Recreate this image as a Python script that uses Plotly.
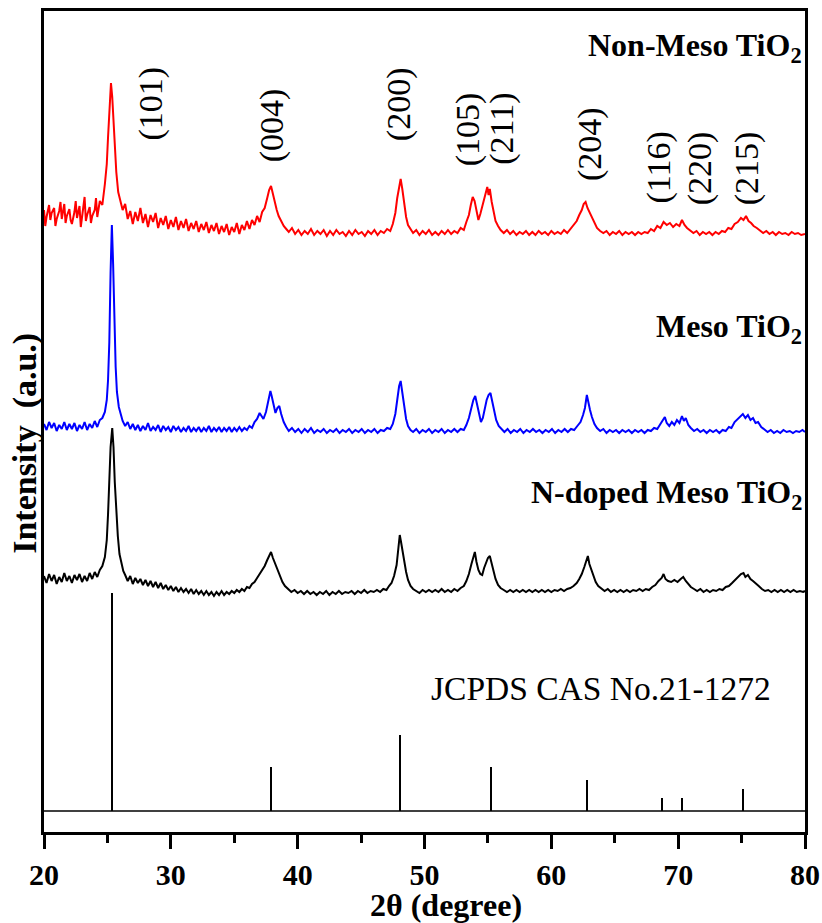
import plotly.graph_objects as go

# ---------------- data ----------------
# intensities are in arbitrary units, already stacked as displayed
red_pts = [
(20.0,622),(20.1,606),(20.2,615),(20.4,627),(20.5,612),(20.6,619),(20.8,624),(20.9,606),(21.0,613),(21.2,621),(21.3,630),(21.4,613),(21.6,628),(21.7,609),(21.8,616),
(22.0,623),(22.1,612),(22.2,608),(22.4,620),(22.5,631),(22.6,614),(22.8,626),(22.9,605),(23.0,614),(23.2,635),(23.3,611),(23.4,617),(23.6,625),(23.7,609),(23.8,616),
(24.0,622),(24.1,634),(24.2,615),(24.4,631),(24.6,627),(24.8,648),(24.95,668),(25.05,695),(25.15,725),(25.28,749),(25.38,735),
(25.48,708),(25.58,684),(25.7,660),(25.85,640),(26.0,632),(26.2,622),(26.4,628),(26.6,613),(26.8,621),(27.0,608),
(27.2,620),(27.4,611),(27.6,624),(27.8,609),(28.0,618),(28.2,605),(28.4,617),(28.6,610),(28.8,619),(29.0,604),
(29.2,614),(29.4,607),(29.6,616),(29.8,603),(30.0,612),(30.2,605),(30.4,615),(30.6,602),(30.8,611),(31.0,604),
(31.2,613),(31.4,601),(31.6,609),(31.8,603),(32.0,611),(32.2,600),(32.4,608),(32.6,602),(32.8,610),(33.0,599),
(33.2,607),(33.4,601),(33.6,609),(33.8,598),(34.0,606),(34.2,600),(34.4,608),(34.6,597),(34.8,605),(35.0,600),
(35.2,609),(35.4,598),(35.6,607),(35.8,602),(36.0,611),(36.2,603),(36.4,612),(36.6,607),(36.8,616),(37.0,610),
(37.2,620),(37.4,624),(37.6,634),(37.75,642),(37.9,646),(38.05,638),(38.2,628),(38.35,622),(38.5,616),(38.7,611),
(38.9,606),(39.1,603),(39.3,600),(39.55,604),(39.8,598),(40.05,602),(40.3,597),(40.55,601),(40.8,598),(41.05,603),
(41.3,597),(41.55,601),(41.8,598),(42.05,602),(42.3,596),(42.55,601),(42.8,597),(43.05,602),(43.3,598),(43.55,600),
(43.8,596),(44.05,601),(44.3,597),(44.55,602),(44.8,598),(45.05,600),(45.3,596),(45.55,601),(45.8,598),(46.05,602),
(46.3,597),(46.55,601),(46.8,599),(47.05,603),(47.3,601),(47.5,608),(47.7,619),(47.85,634),(48.0,647),(48.12,653),
(48.25,643),(48.4,628),(48.55,615),(48.7,607),(48.9,603),(49.1,599),(49.35,602),(49.6,597),(49.85,601),(50.1,598),
(50.35,602),(50.6,597),(50.85,600),(51.1,597),(51.35,601),(51.6,598),(51.85,602),(52.1,598),(52.35,601),(52.6,599),
(52.85,604),(53.1,602),(53.3,610),(53.5,617),(53.65,627),(53.8,635),(53.95,631),(54.1,622),(54.25,612),(54.4,618),
(54.55,626),(54.7,633),(54.85,640),(54.95,645),(55.05,637),(55.15,643),(55.3,630),(55.45,620),(55.6,611),(55.8,606),
(56.0,602),(56.25,599),(56.5,602),(56.75,598),(57.0,601),(57.25,597),(57.5,600),(57.75,598),(58.0,601),(58.25,597),
(58.5,600),(58.75,597),(59.0,601),(59.25,598),(59.5,600),(59.75,597),(60.0,601),(60.25,598),(60.5,600),(60.75,598),
(61.0,602),(61.25,599),(61.5,603),(61.75,606),(62.0,611),(62.2,617),(62.4,622),(62.55,628),(62.7,630),(62.85,624),
(63.0,620),(63.2,613),(63.4,608),(63.6,604),(63.85,601),(64.1,599),(64.35,601),(64.6,597),(64.85,600),(65.1,598),
(65.35,601),(65.6,597),(65.85,600),(66.1,598),(66.35,600),(66.6,597),(66.85,600),(67.1,598),(67.35,600),(67.6,599),
(67.85,603),(68.1,601),(68.35,606),(68.6,604),(68.85,610),(69.1,607),(69.35,609),(69.6,605),(69.85,608),(70.1,606),
(70.3,612),(70.5,607),(70.7,604),(70.95,601),(71.2,599),(71.45,601),(71.7,597),(71.95,600),(72.2,598),(72.45,600),
(72.7,597),(72.95,600),(73.2,598),(73.45,601),(73.7,600),(73.95,604),(74.2,603),(74.45,608),(74.7,610),(74.95,614),
(75.15,612),(75.35,616),(75.55,611),(75.75,609),(75.95,606),(76.2,604),(76.45,601),(76.7,599),(76.95,601),(77.2,598),
(77.45,600),(77.7,597),(77.95,600),(78.2,598),(78.45,599),(78.7,597),(78.95,600),(79.2,598),(79.45,599),(79.7,597),
(80.0,598),
]

blue_pts = [
(20.0,408),(20.2,402),(20.4,410),(20.6,404),(20.8,409),(21.0,401),(21.2,407),(21.4,403),(21.6,410),(21.8,402),
(22.0,408),(22.2,403),(22.4,409),(22.6,401),(22.8,407),(23.0,403),(23.2,410),(23.4,402),(23.6,408),(23.8,404),
(24.0,411),(24.2,405),(24.4,412),(24.6,414),(24.8,420),(24.95,432),(25.05,452),(25.15,490),(25.25,560),(25.35,607),
(25.45,568),(25.55,510),(25.65,465),(25.75,440),(25.9,425),(26.05,418),(26.2,411),(26.4,406),(26.6,410),(26.8,403),
(27.0,408),(27.2,402),(27.4,407),(27.6,401),(27.8,406),(28.0,402),(28.2,409),(28.4,401),(28.6,405),(28.8,402),
(29.0,407),(29.2,400),(29.4,406),(29.6,402),(29.8,405),(30.0,400),(30.2,406),(30.4,402),(30.6,405),(30.8,400),
(31.0,404),(31.2,401),(31.4,406),(31.6,400),(31.8,404),(32.0,401),(32.2,405),(32.4,400),(32.6,404),(32.8,401),
(33.0,406),(33.2,400),(33.4,404),(33.6,401),(33.8,405),(34.0,400),(34.2,404),(34.4,401),(34.6,405),(34.8,400),
(35.0,404),(35.2,401),(35.4,405),(35.6,401),(35.8,404),(36.0,402),(36.2,406),(36.4,404),(36.6,410),(36.8,413),
(37.0,419),(37.15,416),(37.3,413),(37.5,420),(37.7,432),(37.85,441),(37.95,436),(38.1,428),(38.25,419),(38.4,424),
(38.55,426),(38.7,418),(38.9,410),(39.1,405),(39.3,401),(39.55,404),(39.8,400),(40.05,403),(40.3,399),(40.55,403),
(40.8,400),(41.05,404),(41.3,399),(41.55,402),(41.8,400),(42.05,403),(42.3,399),(42.55,402),(42.8,400),(43.05,403),
(43.3,399),(43.55,402),(43.8,400),(44.05,403),(44.3,399),(44.55,402),(44.8,400),(45.05,403),(45.3,399),(45.55,402),
(45.8,400),(46.05,403),(46.3,399),(46.55,402),(46.8,401),(47.05,404),(47.3,403),(47.5,408),(47.7,418),(47.85,432),
(48.0,446),(48.12,451),(48.25,440),(48.4,425),(48.55,413),(48.7,406),(48.9,402),(49.1,400),(49.35,403),(49.6,399),
(49.85,402),(50.1,400),(50.35,403),(50.6,399),(50.85,402),(51.1,400),(51.35,403),(51.6,399),(51.85,402),(52.1,400),
(52.35,403),(52.6,400),(52.85,403),(53.1,402),(53.3,407),(53.5,414),(53.7,425),(53.85,432),(54.0,436),(54.15,427),
(54.3,416),(54.45,410),(54.6,414),(54.75,424),(54.9,432),(55.05,437),(55.2,439),(55.35,430),(55.5,420),(55.65,412),
(55.85,406),(56.05,403),(56.3,400),(56.55,403),(56.8,399),(57.05,402),(57.3,400),(57.55,403),(57.8,399),(58.05,402),
(58.3,400),(58.55,403),(58.8,400),(59.05,402),(59.3,399),(59.55,402),(59.8,400),(60.05,403),(60.3,399),(60.55,402),
(60.8,400),(61.05,403),(61.3,400),(61.55,403),(61.8,402),(62.05,406),(62.3,410),(62.5,417),(62.65,424),(62.8,437),
(62.9,430),(63.05,422),(63.2,415),(63.4,408),(63.6,404),(63.85,401),(64.1,403),(64.35,399),(64.6,402),(64.85,400),
(65.1,402),(65.35,399),(65.6,402),(65.85,400),(66.1,402),(66.35,399),(66.6,402),(66.85,400),(67.1,402),(67.35,399),
(67.6,402),(67.85,401),(68.1,404),(68.35,403),(68.6,408),(68.8,412),(68.95,415),(69.1,409),(69.3,406),(69.5,410),
(69.7,407),(69.9,412),(70.1,409),(70.3,416),(70.45,411),(70.6,414),(70.8,407),(71.0,404),(71.25,401),(71.5,403),
(71.75,400),(72.0,402),(72.25,399),(72.5,402),(72.75,400),(73.0,402),(73.25,399),(73.5,402),(73.75,401),(74.0,405),
(74.2,404),(74.45,410),(74.7,413),(74.95,416),(75.1,418),(75.3,414),(75.5,417),(75.7,412),(75.9,414),(76.1,409),
(76.3,410),(76.55,405),(76.8,402),(77.05,400),(77.3,402),(77.55,399),(77.8,401),(78.05,399),(78.3,402),(78.55,400),
(78.8,401),(79.05,399),(79.3,401),(79.55,400),(79.8,402),(80.0,400),
]

black_pts = [
(20.0,256),(20.2,249),(20.4,258),(20.6,251),(20.8,257),(21.0,248),(21.2,255),(21.4,250),(21.6,259),(21.8,251),
(22.0,256),(22.2,249),(22.4,257),(22.6,252),(22.8,258),(23.0,250),(23.2,256),(23.4,251),(23.6,259),(23.8,253),
(24.0,260),(24.2,255),(24.4,262),(24.6,266),(24.8,275),(24.95,292),(25.05,318),(25.15,350),(25.25,385),(25.38,404),
(25.48,385),(25.58,350),(25.7,322),(25.82,296),(25.95,278),(26.1,268),(26.25,261),(26.4,257),(26.6,251),(26.8,256),
(27.0,248),(27.2,254),(27.4,249),(27.6,253),(27.8,247),(28.0,252),(28.2,246),(28.4,251),(28.6,245),(28.8,250),
(29.0,244),(29.2,249),(29.4,243),(29.6,247),(29.8,242),(30.0,246),(30.2,241),(30.4,245),(30.6,240),(30.8,244),
(31.0,240),(31.2,243),(31.4,239),(31.6,243),(31.8,238),(32.0,242),(32.2,238),(32.4,241),(32.6,237),(32.8,241),
(33.0,237),(33.2,240),(33.4,236),(33.6,240),(33.8,237),(34.0,241),(34.2,237),(34.4,240),(34.6,238),(34.8,241),
(35.0,239),(35.2,242),(35.4,240),(35.6,243),(35.8,241),(36.0,245),(36.2,244),(36.4,248),(36.6,250),(36.8,254),
(37.0,258),(37.2,262),(37.4,266),(37.6,272),(37.75,277),(37.9,280),(38.05,274),(38.2,269),(38.4,262),(38.6,256),
(38.8,250),(39.0,246),(39.25,243),(39.5,240),(39.75,242),(40.0,239),(40.25,241),(40.5,238),(40.75,241),(41.0,238),
(41.25,240),(41.5,237),(41.75,240),(42.0,238),(42.25,241),(42.5,237),(42.75,240),(43.0,238),(43.25,241),(43.5,238),
(43.75,240),(44.0,239),(44.25,241),(44.5,238),(44.75,241),(45.0,239),(45.25,242),(45.5,239),(45.75,241),(46.0,240),
(46.25,242),(46.5,240),(46.75,243),(47.0,242),(47.2,246),(47.4,249),(47.6,256),(47.8,267),(47.95,285),(48.05,297),
(48.15,290),(48.25,282),(48.4,270),(48.55,260),(48.7,252),(48.9,246),(49.1,243),(49.35,241),(49.6,239),(49.85,242),
(50.1,240),(50.35,242),(50.6,240),(50.85,242),(51.1,240),(51.35,243),(51.6,240),(51.85,242),(52.1,240),(52.35,243),
(52.6,241),(52.85,244),(53.1,246),(53.3,251),(53.5,258),(53.7,268),(53.85,276),(53.97,280),(54.1,270),(54.25,262),
(54.4,258),(54.55,257),(54.7,264),(54.85,270),(55.0,274),(55.15,276),(55.3,268),(55.45,260),(55.6,253),(55.8,247),
(56.0,244),(56.25,242),(56.5,240),(56.75,242),(57.0,240),(57.25,242),(57.5,240),(57.75,242),(58.0,240),(58.25,242),
(58.5,240),(58.75,242),(59.0,240),(59.25,242),(59.5,240),(59.75,242),(60.0,240),(60.25,242),(60.5,241),(60.75,243),
(61.0,241),(61.25,243),(61.5,244),(61.75,246),(62.0,249),(62.2,253),(62.4,258),(62.6,265),(62.75,270),(62.88,276),
(63.0,268),(63.15,262),(63.3,256),(63.5,250),(63.7,246),(63.95,243),(64.2,241),(64.45,243),(64.7,240),(64.95,242),
(65.2,240),(65.45,242),(65.7,240),(65.95,242),(66.2,240),(66.45,242),(66.7,241),(66.95,243),(67.2,241),(67.45,243),
(67.7,242),(67.95,245),(68.2,247),(68.45,251),(68.7,254),(68.85,258),(69.0,253),(69.2,251),(69.45,250),(69.7,252),
(69.95,250),(70.2,253),(70.4,255),(70.6,251),(70.8,248),(71.0,245),(71.25,243),(71.5,241),(71.75,243),(72.0,240),
(72.25,242),(72.5,240),(72.75,242),(73.0,241),(73.25,243),(73.5,242),(73.75,245),(74.0,246),(74.25,249),(74.5,252),
(74.75,255),(74.95,258),(75.15,259),(75.3,255),(75.5,257),(75.7,253),(75.9,251),(76.1,249),(76.35,246),(76.6,243),
(76.85,241),(77.1,242),(77.35,240),(77.6,242),(77.85,240),(78.1,242),(78.35,240),(78.6,242),(78.85,240),(79.1,242),
(79.35,240),(79.6,241),(79.85,240),(80.0,241),
]

# JCPDS CAS No.21-1272 reference lines (anatase)
jcpds_pos = [25.4, 37.95, 48.1, 55.25, 62.85, 68.75, 70.35, 75.1]
jcpds_rel = [100, 20, 35, 20, 14, 6, 6, 10]
jcpds_base = 21          # baseline of the stick pattern (a.u.)
jcpds_scale = 2.18       # a.u. per relative-intensity unit

peak_labels = ["(101)", "(004)", "(200)", "(105)", "(211)", "(204)", "(116)", "(220)", "(215)"]
peak_label_x = [28.4, 38.0, 48.0, 53.45, 56.1, 63.05, 68.45, 71.75, 75.45]

series_names = ["Non-Meso TiO<sub>2</sub>", "Meso TiO<sub>2</sub>", "N-doped Meso TiO<sub>2</sub>"]

x_ticks = [20, 30, 40, 50, 60, 70, 80]

# ---------------- figure ----------------
SERIF = "Liberation Serif, Times New Roman, serif"
fig = go.Figure()

for pts, col in [(red_pts, "#ff0000"), (blue_pts, "#0000ff"), (black_pts, "#000000")]:
    xs, ys = zip(*pts)
    fig.add_trace(go.Scatter(x=list(xs), y=list(ys), mode="lines",
                             line=dict(color=col, width=2), hoverinfo="skip"))

# stick pattern
fig.add_trace(go.Bar(x=jcpds_pos, y=[r * jcpds_scale for r in jcpds_rel], base=jcpds_base,
                     width=0.13, marker=dict(color="black", line=dict(width=0))))
fig.add_trace(go.Scatter(x=[x_ticks[0], x_ticks[-1]], y=[jcpds_base, jcpds_base], mode="lines",
                         line=dict(color="black", width=1.3), hoverinfo="skip"))

annotations = []
label_y = [728, 707, 728, 703, 703, 688, 664, 664, 664]
for t, x, y in zip(peak_labels, peak_label_x, label_y):
    annotations.append(dict(x=x, y=y, xref="x", yref="y", text=t, textangle=-90, showarrow=False,
                            font=dict(family=SERIF, size=34, color="black"),
                            xanchor="center", yanchor="middle"))

for name, y in zip(series_names, [785, 504, 338]):
    annotations.append(dict(x=79.9, y=y, xref="x", yref="y", text=name, showarrow=False,
                            font=dict(family=SERIF, size=32, color="black", weight="bold"),
                            xanchor="right", yanchor="middle"))

annotations.append(dict(x=63.9, y=144, xref="x", yref="y", text="JCPDS CAS No.21-1272", showarrow=False,
                        font=dict(family=SERIF, size=33.5, color="black"),
                        xanchor="center", yanchor="middle"))
annotations.append(dict(x=0.5276, y=-0.0885, xref="paper", yref="paper", text="2θ (degree)", showarrow=False,
                        font=dict(family=SERIF, size=32, color="black", weight="bold"),
                        xanchor="center", yanchor="middle"))
annotations.append(dict(x=-0.025, y=0.474, xref="paper", yref="paper", text="Intensity\u00a0 (a.u.)",
                        textangle=-90, showarrow=False,
                        font=dict(family=SERIF, size=34, color="black", weight="bold"),
                        xanchor="center", yanchor="middle"))

fig.update_layout(
    width=822, height=923,
    margin=dict(l=44, r=17, t=11, b=91, autoexpand=False),
    plot_bgcolor="white", paper_bgcolor="white",
    showlegend=False, bargap=0,
    annotations=annotations,
    xaxis=dict(range=[20, 80], tickvals=x_ticks, ticks="outside", ticklen=14, tickwidth=2.5,
               tickcolor="black", showline=True, linewidth=2.5, linecolor="black", mirror=True,
               showgrid=False, zeroline=False, automargin=False,
               minor=dict(dtick=5, tick0=20, ticks="outside", ticklen=8, tickwidth=2.5, tickcolor="black", showgrid=False),
               tickfont=dict(family=SERIF, size=30, color="black", weight="bold")),
    yaxis=dict(range=[0, 821], showticklabels=False, ticks="", showline=True, linewidth=2.5,
               linecolor="black", mirror=True, showgrid=False, zeroline=False, automargin=False),
)

# remove the browser's default 8px page margin so the figure sits at the window origin
fig.write_html("out.html", config={"displayModeBar": False},
               post_script="document.body.style.margin='0';document.body.style.overflow='hidden';")
